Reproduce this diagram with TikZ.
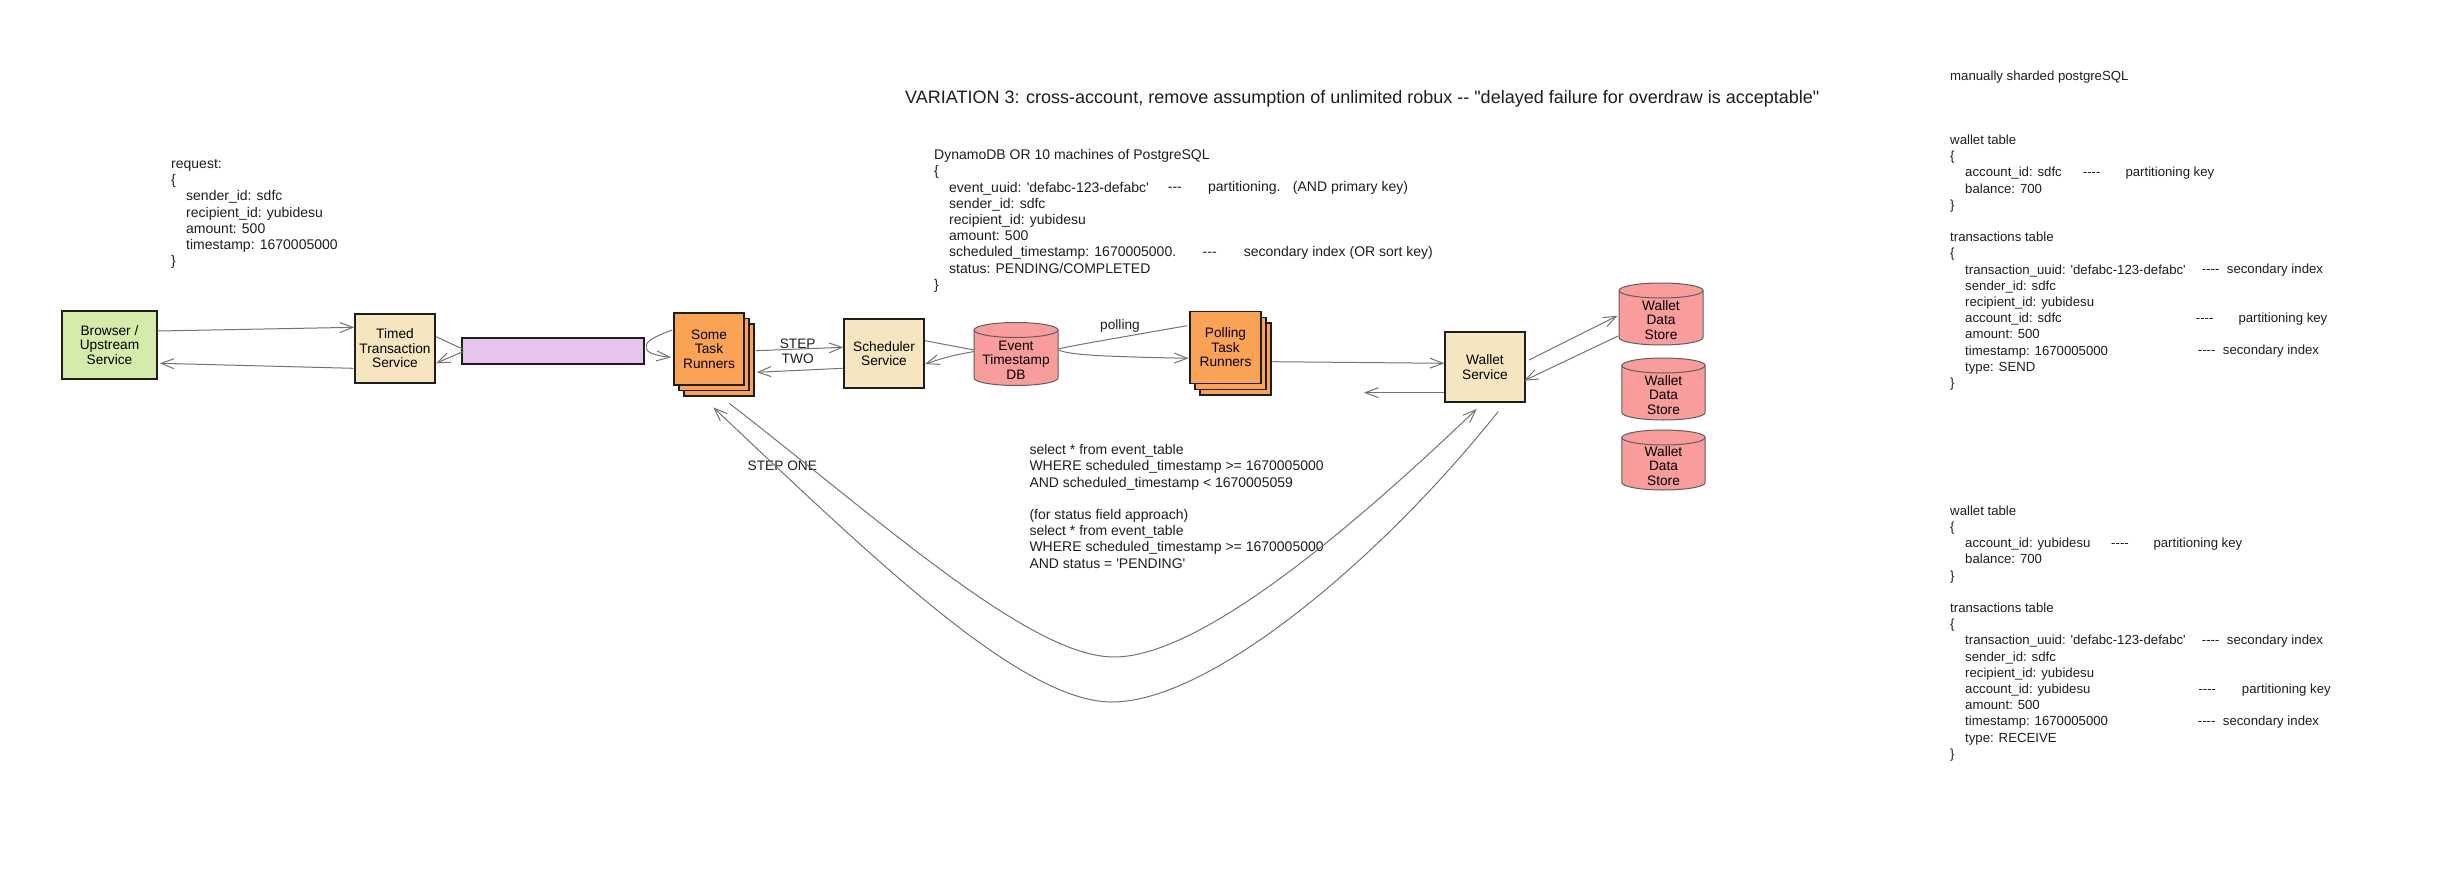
\documentclass[tikz,border=0pt]{standalone}
\usepackage{fontspec}
\setmainfont{Liberation Sans}[Ligatures=TeXOff]
\usetikzlibrary{arrows.meta,calc}
\definecolor{boxgreen}{RGB}{212,235,170}
\definecolor{boxbeige}{RGB}{245,230,192}
\definecolor{boxpurple}{RGB}{230,196,238}
\definecolor{boxorange}{RGB}{251,163,85}
\definecolor{dbpink}{RGB}{248,156,156}
\definecolor{edgegray}{RGB}{115,115,115}
\definecolor{cylgray}{RGB}{95,95,95}
\definecolor{ink}{RGB}{30,30,30}
\newcommand\firststrut{\rule{0pt}{11pt}}
\newcommand\indentA{\hspace*{15pt}}
\newcommand\cylbody[4]{%
  \path[cylstyle] ({#1-#3},{#2-#4/2+7.5}) -- ({#1-#3},{#2+#4/2-7.5})
     arc[start angle=180,end angle=360,x radius=#3pt,y radius=7.5pt]
     -- ({#1+#3},{#2-#4/2+7.5})
     arc[start angle=0,end angle=180,x radius=#3pt,y radius=7.5pt] -- cycle;
  \draw[cylline] ({#1-#3},{#2-#4/2+7.5}) arc[start angle=180,end angle=360,x radius=#3pt,y radius=7.5pt];
}
\begin{document}
\begin{tikzpicture}[x=1pt,y=-1pt,
  box/.style={draw=ink, line width=1.4pt, align=center, inner sep=0pt,
    text=black, font=\fontsize{13.7}{14.5}\selectfont},
  svc/.style={box, fill=boxbeige, minimum width=80pt, minimum height=69pt},
  runner/.style={box, fill=boxorange, minimum width=70pt, minimum height=72pt},
  stackcopy/.style={draw=ink, line width=1.4pt, fill=boxorange},
  dbtext/.style={inner sep=0pt, align=center, text=black, font=\fontsize{13.7}{14.5}\selectfont},
  cylstyle/.style={fill=dbpink, draw=cylgray, line width=1pt},
  cylline/.style={draw=cylgray, line width=1pt},
  edge/.style={draw=edgegray, line width=1pt},
  arr/.style={edge, -{Straight Barb[length=13pt,width=10pt]}},
  txt/.style={inner sep=0pt, align=left, anchor=north west, text=ink, font=\fontsize{14}{16.2}\selectfont},
  rtxt/.style={txt, font=\fontsize{13.2}{16.2}\selectfont},
  ann/.style={inner sep=0pt, anchor=base west, text=ink, font=\fontsize{14}{16.2}\selectfont},
  rann/.style={ann, font=\fontsize{13.2}{16.2}\selectfont},
  lbl/.style={inner sep=0pt, text=ink, font=\fontsize{13.7}{15.7}\selectfont, align=center}
]
\useasboundingbox (0,0) rectangle (2456,880);
\fill[white] (0,0) rectangle (2456,880);

% ---------- title ----------
\node[anchor=base west, inner sep=0pt, text=ink, font=\fontsize{18}{21.6}\selectfont] (title) at (905,103.3)
  {VARIATION 3: cross-account, remove assumption of unlimited robux -- "delayed failure for overdraw is acceptable"};

% ---------- request block ----------
\node[txt] (request) at (171,157.3) {\firststrut request:\\
\{\\
\indentA sender\_id: sdfc\\
\indentA recipient\_id: yubidesu\\
\indentA amount: 500\\
\indentA timestamp: 1670005000\\
\}};

% ---------- DynamoDB block ----------
\node[txt] (dynamo) at (934,148.5) {\firststrut DynamoDB OR 10 machines of PostgreSQL\\
\{\\
\indentA event\_uuid: \textquotesingle defabc-123-defabc\textquotesingle\\
\indentA sender\_id: sdfc\\
\indentA recipient\_id: yubidesu\\
\indentA amount: 500\\
\indentA scheduled\_timestamp: 1670005000.\\
\indentA status: PENDING/COMPLETED\\
\}};
\node[ann] (dynA1) at (1167.7,191.9) {---};
\node[ann] (dynA2) at (1207.9,191.9) {partitioning.};
\node[ann] (dynA3) at (1292.7,191.9) {(AND primary key)};
\node[ann] (dynB1) at (1202.5,256.7) {---};
\node[ann] (dynB2) at (1243.6,256.7) {secondary index (OR sort key)};

% ---------- select block ----------
\node[txt] (select) at (1029.3,443.5) {\firststrut select * from event\_table\\
WHERE scheduled\_timestamp >= 1670005000\\
AND scheduled\_timestamp < 1670005059\\
\mbox{}\\
(for status field approach)\\
select * from event\_table\\
WHERE scheduled\_timestamp >= 1670005000\\
AND status = \textquotesingle PENDING\textquotesingle};

% ---------- right panel ----------
\node[rann] (manual) at (1950,81) {manually sharded postgreSQL};
\node[rtxt] (tablesA) at (1950,133.3) {\firststrut wallet table\\
\{\\
\indentA account\_id: sdfc\\
\indentA balance: 700\\
\}\\
\mbox{}\\
transactions table\\
\{\\
\indentA transaction\_uuid: \textquotesingle defabc-123-defabc\textquotesingle\\
\indentA sender\_id: sdfc\\
\indentA recipient\_id: yubidesu\\
\indentA account\_id: sdfc\\
\indentA amount: 500\\
\indentA timestamp: 1670005000\\
\indentA type: SEND\\
\}};
\node[rann] (tA1a) at (2082.7,176.7) {----};
\node[rann] (tA1b) at (2125.3,176.7) {partitioning key};
\node[rann] (tA2a) at (2201.7,273.9) {----};
\node[rann] (tA2b) at (2226.7,273.9) {secondary index};
\node[rann] (tA3a) at (2195.7,322.5) {----};
\node[rann] (tA3b) at (2238.3,322.5) {partitioning key};
\node[rann] (tA4a) at (2197.7,354.9) {----};
\node[rann] (tA4b) at (2222.7,354.9) {secondary index};

\node[rtxt] (tablesB) at (1950,504) {\firststrut wallet table\\
\{\\
\indentA account\_id: yubidesu\\
\indentA balance: 700\\
\}\\
\mbox{}\\
transactions table\\
\{\\
\indentA transaction\_uuid: \textquotesingle defabc-123-defabc\textquotesingle\\
\indentA sender\_id: sdfc\\
\indentA recipient\_id: yubidesu\\
\indentA account\_id: yubidesu\\
\indentA amount: 500\\
\indentA timestamp: 1670005000\\
\indentA type: RECEIVE\\
\}};
\node[rann] (tB1a) at (2111,547.4) {----};
\node[rann] (tB1b) at (2153.3,547.4) {partitioning key};
\node[rann] (tB2a) at (2201.7,644.6) {----};
\node[rann] (tB2b) at (2226.7,644.6) {secondary index};
\node[rann] (tB3a) at (2198.3,693.2) {----};
\node[rann] (tB3b) at (2241.7,693.2) {partitioning key};
\node[rann] (tB4a) at (2197.7,725.6) {----};
\node[rann] (tB4b) at (2222.7,725.6) {secondary index};

% ---------- nodes ----------
\node[box, fill=boxgreen, minimum width=95pt, minimum height=68pt] (browser) at (109.5,345) {Browser /\\Upstream\\Service};
\node[svc] (timed) at (395,348.5) {Timed\\Transaction\\Service};
\node[box, fill=boxpurple, minimum width=182pt, minimum height=26pt] (queue) at (553,351) {};

\draw[stackcopy] (684,324) rectangle (754,396);
\draw[stackcopy] (679,318.5) rectangle (749,390.5);
\node[runner] (runners) at (709,349) {Some\\Task\\Runners};

\node[svc] (sched) at (884,353.5) {Scheduler\\Service};

\cylbody{1016}{354}{42}{63}
\node[dbtext, minimum width=84pt, minimum height=63pt] (eventdb) at (1016,360) {Event\\Timestamp\\DB};

\draw[stackcopy] (1200,323) rectangle (1271,395);
\draw[stackcopy] (1195,317.3) rectangle (1266,389.3);
\node[runner, minimum width=71pt] (polling) at (1225.5,347.5) {Polling\\Task\\Runners};

\node[svc, minimum height=70pt] (wallet) at (1485,367) {Wallet\\Service};

\cylbody{1661}{314}{42}{62}
\node[dbtext, minimum width=84pt, minimum height=62pt] (store1) at (1661,320) {Wallet\\Data\\Store};
\cylbody{1663.5}{389}{41.7}{62}
\node[dbtext, minimum width=83pt, minimum height=62pt] (store2) at (1663.5,395) {Wallet\\Data\\Store};
\cylbody{1663.5}{460}{41.7}{60}
\node[dbtext, minimum width=83pt, minimum height=60pt] (store3) at (1663.5,466) {Wallet\\Data\\Store};

\coordinate (walletout) at (1364,392.7);

% ---------- labels ----------
\node[lbl] (steptwo) at (797.7,351.2) {STEP\\TWO};
\node[lbl] (stepone) at (782.3,465.7) {STEP ONE};
\node[lbl] (pollinglbl) at (1120,326) {polling};

% ---------- connectors ----------
\draw[arr] ($(browser.east)+(0,-14)$) -- ($(timed.west)+(0,-21.2)$);
\draw[arr] ($(timed.west)+(-1,19.8)$) -- ($(browser.east)+(2,18.3)$);

\draw[edge] ($(timed.east)+(0.3,-11.8)$) -- ($(queue.west)+(2,-1.7)$);
\draw[arr] ($(queue.west)+(2,0.5)$) -- ($(timed.east)+(0.3,14.8)$);

\draw[edge] ($(runners.west)+(-1,-19)$) .. controls (656,336) and (645,341) .. ($(queue.east)+(1.7,-4)$);
\draw[arr] ($(queue.east)+(1.7,-3)$) .. controls (646,353) and (658,356) .. ($(runners.west)+(-2.3,8.3)$);

\draw[arr] ($(runners.east)+(11.3,1.7)$) -- ($(sched.west)+(0,-6.2)$);
\draw[arr] ($(sched.west)+(-0.7,14.8)$) -- ($(runners.east)+(12,23.3)$);

\draw[edge] ($(sched.east)+(0.3,-12.8)$) .. controls (950,346) .. ($(eventdb.west)+(0.3,-10)$);
\draw[arr] ($(eventdb.west)+(0.3,-8.5)$) .. controls (950,356) .. ($(sched.east)+(0.3,10.5)$);

\draw[edge] ($(polling.west)+(-2.3,-21.8)$) .. controls (1100,341) and (1070,346) .. ($(eventdb.east)+(0.3,-11)$);
\draw[arr] ($(eventdb.east)+(0.3,-10)$) .. controls (1070,355) and (1100,356.5) .. ($(polling.west)+(-0.7,10.8)$);

\draw[arr] ($(polling.east)+(10.7,14.2)$) -- ($(wallet.west)+(0,-3.7)$);
\draw[arr] ($(wallet.west)+(0,25.7)$) -- (walletout);

\draw[arr] ($(wallet.east)+(3.3,-7)$) -- ($(store1.west)+(-1.3,-4.3)$);
\draw[arr] ($(store1.west)+(-0.7,16)$) -- ($(wallet.east)+(-1.7,13.7)$);

\draw[arr] ($(runners.south)+(20.3,17.7)$) .. controls (880,520) and (1030,657) .. (1114,657)
   .. controls (1200,657) and (1350,530) .. ($(wallet.south)+(-8.3,6.3)$);
\draw[arr] ($(wallet.south)+(13.3,8.7)$) .. controls (1380,560) and (1210,702) .. (1112,702)
   .. controls (1020,702) and (870,555) .. ($(runners.south)+(4.3,21.7)$);
\end{tikzpicture}
\end{document}
